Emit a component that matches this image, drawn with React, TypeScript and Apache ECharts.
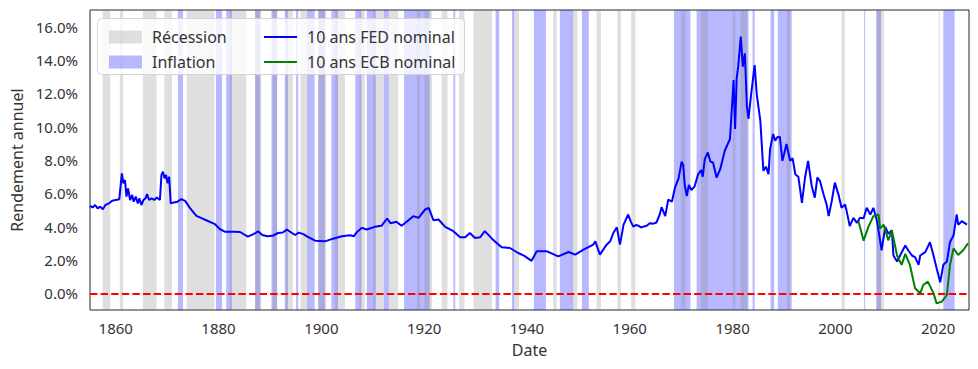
import React, { useEffect, useRef } from "react";
import * as echarts from "echarts";

const xLabelYears = [1860, 1880, 1900, 1920, 1940, 1960, 1980, 2000, 2020];
const yLabelValues = [0, 2, 4, 6, 8, 10, 12, 14, 16];

const recessions: [number, number][] = [
  [1857.45, 1858.95], [1860.8, 1861.45], [1865.3, 1867.95], [1869.45, 1870.95],
  [1873.8, 1879.2], [1882.2, 1885.4], [1887.2, 1888.3], [1890.55, 1891.4],
  [1893.05, 1894.45], [1895.95, 1897.45], [1899.45, 1900.95], [1902.7, 1904.6],
  [1907.4, 1908.45], [1910.05, 1912.05], [1913.05, 1914.95], [1918.6, 1919.2],
  [1920.05, 1921.55], [1923.4, 1924.55], [1926.8, 1927.85], [1929.6, 1933.2],
  [1937.4, 1938.45], [1945.1, 1945.8], [1948.85, 1949.8], [1953.55, 1954.4],
  [1957.6, 1958.3], [1960.3, 1961.1], [1969.95, 1970.85], [1973.85, 1975.2],
  [1980.05, 1980.55], [1981.55, 1982.85], [1990.55, 1991.2], [2001.2, 2001.85],
  [2007.95, 2009.45], [2020.1, 2020.3],
];

const inflationPeriods: [number, number][] = [
  [1872.1, 1873.1], [1879.5, 1880.7], [1881.5, 1882.6], [1887.1, 1888.1],
  [1890.3, 1891.4], [1892.9, 1893.5], [1895.1, 1895.5], [1897.3, 1898.7],
  [1899.4, 1900.7], [1901.95, 1903.25], [1906.6, 1907.8], [1908.85, 1910.6],
  [1912.1, 1913.1], [1916.1, 1921.1], [1925.7, 1926.05], [1933.9, 1934.6],
  [1937.1, 1937.5], [1941.35, 1943.7], [1946.4, 1948.95], [1950.7, 1952.05],
  [1968.6, 1971.8], [1973.0, 1983.1], [1983.9, 1984.3], [1987.4, 1988.1],
  [1988.8, 1991.5], [2005.6, 2005.8], [2008.0, 2008.9], [2021.0, 2023.2],
];

const fedYield: [number, number][] = [
  [1855.0, 5.25], [1855.5, 5.15], [1856.0, 5.3], [1856.5, 5.1], [1857.0, 5.2],
  [1857.5, 5.05], [1858.0, 5.3], [1858.7, 5.4], [1859.3, 5.55], [1860.0, 5.6],
  [1860.7, 5.65], [1861.0, 6.6], [1861.2, 7.2], [1861.5, 6.6], [1861.8, 6.8],
  [1862.1, 5.8], [1862.4, 6.3], [1862.8, 5.6], [1863.2, 5.9], [1863.5, 5.5],
  [1863.9, 5.8], [1864.3, 5.4], [1864.6, 5.7], [1865.0, 5.3], [1865.4, 5.6],
  [1865.8, 5.7], [1866.1, 5.95], [1866.5, 5.6], [1867.0, 5.7], [1867.5, 5.6],
  [1868.0, 5.75], [1868.6, 5.6], [1868.9, 7.1], [1869.2, 7.3], [1869.5, 6.9],
  [1869.8, 7.1], [1870.1, 6.6], [1870.4, 7.0], [1870.7, 5.4], [1871.3, 5.45],
  [1872.0, 5.5], [1872.8, 5.65], [1873.5, 5.55], [1874.5, 5.1], [1875.7, 4.65],
  [1877.5, 4.4], [1879.3, 4.15], [1880.3, 3.85], [1881.2, 3.7], [1883.0, 3.7],
  [1884.2, 3.68], [1885.7, 3.4], [1886.8, 3.55], [1887.7, 3.72], [1888.5, 3.5],
  [1889.5, 3.42], [1890.5, 3.45], [1891.6, 3.62], [1892.5, 3.65], [1893.3, 3.82],
  [1894.3, 3.62], [1894.9, 3.5], [1895.6, 3.64], [1896.5, 3.55], [1897.2, 3.42],
  [1898.8, 3.16], [1900.7, 3.12], [1902.3, 3.28], [1904.0, 3.42], [1905.6, 3.48],
  [1906.3, 3.42], [1907.0, 3.7], [1907.9, 3.93], [1908.8, 3.83], [1910.4, 3.99],
  [1911.7, 4.05], [1912.8, 4.49], [1913.5, 4.2], [1914.6, 4.3], [1915.6, 4.05],
  [1916.6, 4.3], [1917.9, 4.63], [1918.9, 4.53], [1920.2, 5.03], [1920.9, 5.13],
  [1921.8, 4.39], [1922.8, 4.43], [1924.1, 3.99], [1925.7, 3.73], [1927.0, 3.36],
  [1928.0, 3.36], [1928.9, 3.62], [1929.9, 3.32], [1930.9, 3.36], [1931.8, 3.73],
  [1933.2, 3.28], [1934.1, 3.02], [1935.1, 2.76], [1936.7, 2.72], [1938.3, 2.42],
  [1939.5, 2.25], [1940.9, 1.95], [1941.9, 2.52], [1943.9, 2.52], [1946.1, 2.22],
  [1948.1, 2.48], [1949.4, 2.32], [1951.0, 2.62], [1952.9, 2.92], [1953.3, 3.12],
  [1954.2, 2.32], [1955.5, 2.92], [1956.2, 3.12], [1956.8, 3.62], [1957.5, 3.96],
  [1958.1, 2.92], [1958.8, 4.12], [1959.7, 4.73], [1960.2, 4.3], [1960.7, 4.0],
  [1961.2, 4.1], [1961.7, 4.06], [1962.2, 3.95], [1962.6, 4.0], [1963.3, 4.05],
  [1963.9, 4.2], [1964.6, 4.18], [1965.2, 4.25], [1965.8, 4.7], [1966.2, 5.17],
  [1966.9, 4.63], [1967.5, 5.63], [1968.2, 5.5], [1968.8, 6.34], [1969.5, 6.9],
  [1970.1, 7.9], [1970.4, 7.7], [1970.7, 6.5], [1971.1, 5.84], [1971.5, 6.5],
  [1972.0, 6.2], [1972.6, 6.4], [1973.3, 7.14], [1973.9, 7.4], [1974.2, 7.0],
  [1974.6, 8.05], [1975.2, 8.45], [1975.7, 7.9], [1976.2, 7.85], [1976.9, 6.94],
  [1977.6, 7.45], [1978.5, 8.57], [1979.5, 9.26], [1979.8, 10.77], [1980.2, 12.8],
  [1980.5, 9.86], [1980.8, 12.9], [1981.1, 13.6], [1981.6, 15.4], [1982.0, 13.6],
  [1982.4, 14.4], [1982.8, 11.2], [1983.1, 10.47], [1983.6, 11.9], [1984.3, 13.7],
  [1984.7, 11.97], [1985.4, 10.37], [1986.0, 7.35], [1986.5, 7.6], [1987.0, 7.15],
  [1987.3, 8.65], [1987.9, 9.56], [1988.3, 9.16], [1988.7, 9.36], [1989.2, 9.4],
  [1989.7, 7.95], [1990.5, 8.96], [1991.2, 7.95], [1991.7, 8.1], [1992.2, 7.15],
  [1992.8, 7.0], [1993.5, 5.43], [1994.1, 6.95], [1994.7, 7.95], [1995.4, 6.44],
  [1996.0, 5.74], [1996.5, 6.95], [1997.0, 6.75], [1997.7, 5.94], [1998.3, 5.33],
  [1998.7, 4.63], [1999.3, 5.53], [1999.9, 6.64], [2000.6, 5.94], [2001.2, 5.13],
  [2001.9, 5.33], [2002.2, 4.93], [2002.8, 4.03], [2003.5, 4.53], [2004.2, 4.23],
  [2004.8, 4.53], [2005.5, 4.5], [2006.1, 5.13], [2006.8, 4.73], [2007.4, 5.13],
  [2008.1, 4.33], [2008.7, 3.18], [2009.0, 2.58], [2009.7, 3.98], [2010.3, 3.58],
  [2011.0, 3.78], [2011.3, 2.27], [2012.0, 1.91], [2012.6, 2.27], [2013.6, 2.87],
  [2014.2, 2.57], [2014.9, 2.27], [2015.5, 2.17], [2016.2, 1.71], [2016.5, 2.27],
  [2017.5, 2.47], [2018.4, 3.07], [2019.1, 2.27], [2019.7, 1.51], [2020.4, 0.66],
  [2021.0, 1.71], [2021.7, 1.91], [2022.3, 3.07], [2023.0, 3.48], [2023.6, 4.73],
  [2023.9, 4.12], [2024.6, 4.33], [2025.6, 4.12],
];

const ecbYield: [number, number][] = [
  [2004.5, 4.33], [2005.5, 3.16], [2006.4, 3.97], [2007.4, 4.63], [2008.4, 4.73],
  [2008.7, 3.88], [2009.4, 4.12], [2010.3, 3.18], [2011.0, 3.78], [2012.0, 2.27],
  [2012.9, 1.71], [2013.6, 2.37], [2014.5, 1.71], [2015.5, 0.3], [2016.5, 0.0],
  [2017.1, 0.5], [2018.0, 0.7], [2019.1, 0.0], [2019.7, -0.6], [2020.7, -0.5],
  [2021.7, -0.1], [2022.3, 1.7], [2023.0, 2.7], [2023.9, 2.3], [2024.9, 2.6],
  [2025.8, 3.0],
];

const FONT = "'Noto Sans', sans-serif";
const GRAY_BAND = "rgba(128,128,128,0.25)";
const BLUE_BAND = "rgba(0,0,255,0.28)";

export default function App() {
  const ref = useRef<HTMLDivElement>(null);
  useEffect(() => {
    if (!ref.current) return;
    const chart = echarts.init(ref.current, null, { renderer: "svg" });
    const bands = (list: [number, number][]) =>
      list.map(([a, b]) => [{ xAxis: a }, { xAxis: b }]);
    chart.setOption({
      animation: false,
      textStyle: { fontFamily: FONT },
      grid: {
        left: 90, right: 9, top: 10, bottom: 59,
        show: true, borderColor: "#262626", borderWidth: 1, backgroundColor: "transparent",
      },
      graphic: [
        {
          type: "rect", z: 9, left: 97, top: 18,
          shape: { width: 367, height: 56, r: 4 },
          style: { fill: "rgba(255,255,255,0.8)", stroke: "#d4d4d4", lineWidth: 1 },
        },
      ],
      legend: [
        {
          z: 10, left: 104, top: 23, orient: "vertical",
          itemWidth: 33, itemHeight: 13, itemGap: 7, icon: "rect",
          data: ["Récession", "Inflation"],
          textStyle: { fontFamily: FONT, fontSize: 16, color: "#333", lineHeight: 18, padding: [0, 0, 0, 5] },
        },
        {
          z: 10, left: 259, top: 23, orient: "vertical",
          itemWidth: 33, itemHeight: 2, itemGap: 7, icon: "rect",
          data: ["10 ans FED nominal", "10 ans ECB nominal"],
          textStyle: { fontFamily: FONT, fontSize: 16, color: "#333", lineHeight: 18, padding: [0, 0, 0, 5] },
        },
      ],
      xAxis: {
        type: "value", min: 1855, max: 2026, interval: 5,
        name: "Date", nameLocation: "middle", nameGap: 32,
        nameTextStyle: { fontFamily: FONT, fontSize: 16, color: "#333" },
        axisLine: { show: false }, axisTick: { show: false }, splitLine: { show: false },
        axisLabel: {
          margin: 10, fontFamily: FONT, fontSize: 15, color: "#333",
          formatter: (v: number) => (xLabelYears.includes(Math.round(v)) ? String(Math.round(v)) : ""),
        },
      },
      yAxis: {
        type: "value", min: -1, max: 17, interval: 1,
        name: "Rendement annuel", nameLocation: "middle", nameGap: 64,
        nameTextStyle: { fontFamily: FONT, fontSize: 16, color: "#333" },
        axisLine: { show: false }, axisTick: { show: false }, splitLine: { show: false },
        axisLabel: {
          margin: 12, fontFamily: FONT, fontSize: 15, color: "#333",
          formatter: (v: number) => (yLabelValues.includes(Math.round(v)) ? v.toFixed(1) + "%" : ""),
        },
      },
      series: [
        {
          name: "Inflation", type: "line", data: [], silent: true,
          itemStyle: { color: BLUE_BAND }, lineStyle: { color: BLUE_BAND },
          markArea: { silent: true, itemStyle: { color: BLUE_BAND }, data: bands(inflationPeriods) },
        },
        {
          name: "Récession", type: "line", data: [], silent: true,
          itemStyle: { color: GRAY_BAND }, lineStyle: { color: GRAY_BAND },
          markArea: { silent: true, itemStyle: { color: GRAY_BAND }, data: bands(recessions) },
        },
        {
          name: "10 ans FED nominal", type: "line", data: fedYield, showSymbol: false, symbol: "none",
          z: 5, itemStyle: { color: "#0000ff" }, lineStyle: { color: "#0000ff", width: 2 },
          markLine: {
            silent: true, symbol: ["none", "none"], label: { show: false },
            lineStyle: { color: "#ff0000", width: 2, type: [7.4, 3.2] },
            data: [{ yAxis: 0 }],
          },
        },
        {
          name: "10 ans ECB nominal", type: "line", data: ecbYield, showSymbol: false, symbol: "none",
          z: 6, itemStyle: { color: "#008000" }, lineStyle: { color: "#008000", width: 2 },
        },
      ],
    });
    return () => chart.dispose();
  }, []);
  return (
    <div
      ref={ref}
      style={{ position: "fixed", left: 0, top: 0, width: 978, height: 369, background: "#fff" }}
    />
  );
}
